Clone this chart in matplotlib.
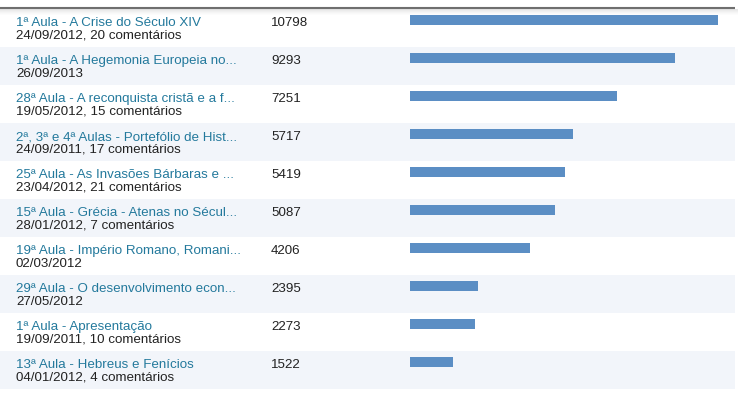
import matplotlib
matplotlib.use("Agg")
import matplotlib.pyplot as plt

# dados das postagens mais vistas
titulos = [
    "1ª Aula - A Crise do Século XIV",
    "1ª Aula - A Hegemonia Europeia no...",
    "28ª Aula - A reconquista cristã e a f...",
    "2ª, 3ª e 4ª Aulas - Portefólio de Hist...",
    "25ª Aula - As Invasões Bárbaras e ...",
    "15ª Aula - Grécia - Atenas no Sécul...",
    "19ª Aula - Império Romano, Romani...",
    "29ª Aula - O desenvolvimento econ...",
    "1ª Aula - Apresentação",
    "13ª Aula - Hebreus e Fenícios",
]
datas = [
    "24/09/2012, 20 comentários",
    "26/09/2013",
    "19/05/2012, 15 comentários",
    "24/09/2011, 17 comentários",
    "23/04/2012, 21 comentários",
    "28/01/2012, 7 comentários",
    "02/03/2012",
    "27/05/2012",
    "19/09/2011, 10 comentários",
    "04/01/2012, 4 comentários",
]
visualizacoes = [10798, 9293, 7251, 5717, 5419, 5087, 4206, 2395, 2273, 1522]

W, H = 738, 397
top, row_h = 9, 38
fs = 9.6

plt.rcParams['font.family'] = ['Liberation Sans', 'DejaVu Sans']

fig = plt.figure(figsize=(W / 100, H / 100), dpi=100)
ax = fig.add_axes([0, 0, 1, 1])
ax.set_xlim(0, W)
ax.set_ylim(H, 0)
ax.axis('off')

# linha superior e sombra
for k, a in enumerate([0.10, 0.08, 0.06, 0.04, 0.025, 0.012]):
    ax.axhspan(top + k, top + k + 1, color='black', alpha=a, lw=0)
ax.plot([0, 735], [7.5, 7.5], color='#6f6f6f', lw=1.5, solid_capstyle='butt')

n = len(titulos)
for i in range(n):
    y0 = top + i * row_h
    if i % 2 == 1:
        ax.axhspan(y0, y0 + row_h, xmin=0, xmax=735 / W, color='#f2f5fa', lw=0, zorder=0)
    ax.text(16, y0 + 17, titulos[i], color='#23799c', fontsize=fs, va='baseline')
    ax.text(16, y0 + 30, datas[i], color='#222222', fontsize=fs, va='baseline')
    ax.text(271, y0 + 17, str(visualizacoes[i]), color='#222222', fontsize=fs, va='baseline')

# barras
bx = fig.add_axes([410 / W, 1 - (top + n * row_h) / H, 308 / W, n * row_h / H])
bx.patch.set_alpha(0)
bx.set_xlim(0, max(visualizacoes))
bx.set_ylim(n, 0)
bx.axis('off')
bx.barh([i + 11 / row_h for i in range(n)], visualizacoes, height=10 / row_h,
        color='#5b8ec4', align='center')

plt.savefig("out.png", dpi=100)
